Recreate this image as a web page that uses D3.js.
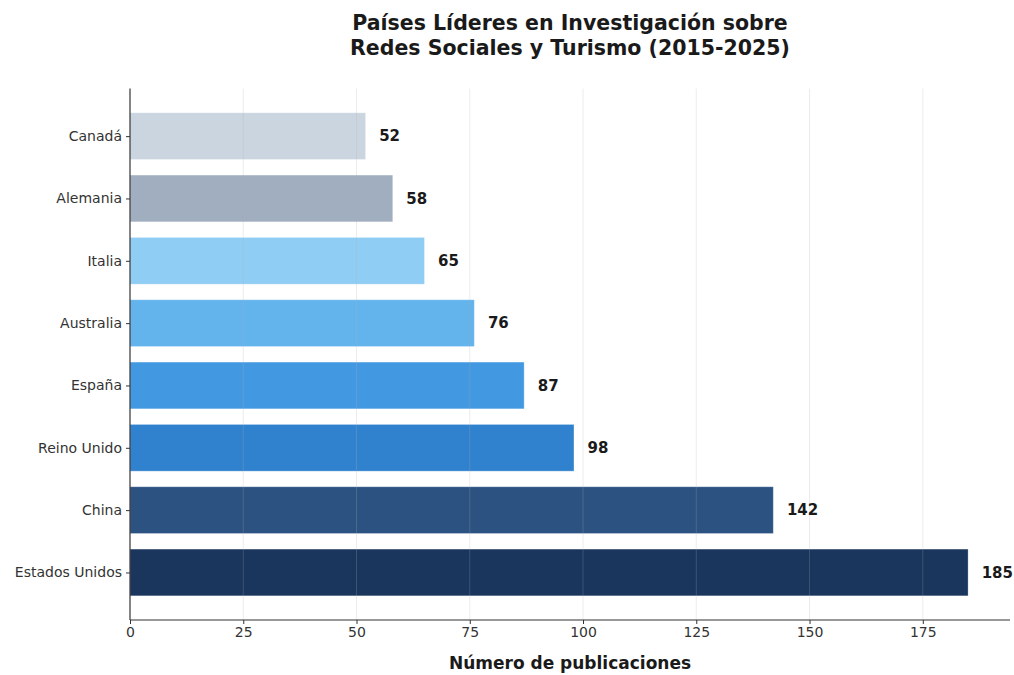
<!DOCTYPE html>
<html><head><meta charset="utf-8">
<script src="https://cdn.jsdelivr.net/npm/d3@7"></script>
<style>body{margin:0;background:#fff;} svg{display:block;}</style>
</head><body>
<svg id="chart" width="1014" height="675"></svg>
<script>
const countries = ["Canadá","Alemania","Italia","Australia","España","Reino Unido","China","Estados Unidos"];
const publications = [52,58,65,76,87,98,142,185];
const barColors = ["#cbd5e0","#a0aec0","#90cdf4","#63b3ed","#4299e1","#3182ce","#2c5282","#1a365d"];
const xTicks = [0,25,50,75,100,125,150,175];
const titleLines = ["Países Líderes en Investigación sobre","Redes Sociales y Turismo (2015-2025)"];
const xLabel = "Número de publicaciones";

(function(){
const svg = d3.select("#chart");
const mLeft = 130, mRight = 1010, mTop = 88.6, mBottom = 620;
const x = d3.scaleLinear().domain([0, 194.25]).range([mLeft, mRight]);
const y = d3.scaleLinear().domain([-0.7625, 7.7625]).range([mTop, mBottom]);
const bh = (y(0.375) - y(-0.375));

const font = "'DejaVu Sans', sans-serif";

svg.append("g").selectAll("rect").data(countries).join("rect")
  .attr("x", x(0))
  .attr("y", (d,i) => y(i) - bh/2)
  .attr("width", (d,i) => x(publications[i]) - x(0))
  .attr("height", bh)
  .attr("fill", (d,i) => barColors[i])
  .attr("stroke", "#ffffff").attr("stroke-opacity", 0.35).attr("stroke-width", 0.8);

svg.append("g").selectAll("line").data(xTicks.filter(t=>t>0)).join("line")
  .attr("x1", d=>x(d)).attr("x2", d=>x(d)).attr("y1", mTop).attr("y2", mBottom)
  .attr("stroke", "#b0b0b0").attr("stroke-opacity", 0.3).attr("stroke-width", 0.8);

svg.append("g").selectAll("text").data(countries).join("text")
  .attr("x", (d,i) => x(publications[i] + 3))
  .attr("y", (d,i) => y(i))
  .attr("dy", "0.35em")
  .attr("font-family", font).attr("font-weight", "bold").attr("font-size", 15)
  .attr("fill", "#1a1a1a")
  .text((d,i) => publications[i]);

const xAxis = d3.axisBottom(x).tickValues(xTicks).tickSize(4).tickPadding(3);
const gx = svg.append("g").attr("transform", `translate(0,${mBottom})`).call(xAxis);
gx.select(".domain").attr("d", `M${mLeft},0H${mRight}`).attr("stroke", "#333").attr("stroke-width", 1.2);
gx.selectAll(".tick line").attr("stroke", "#333");
gx.selectAll(".tick text").attr("font-family", font).attr("font-size", 14).attr("fill", "#333");

const yAxis = d3.axisLeft(d3.scalePoint().domain(countries).range([y(0), y(7)])).tickSize(4).tickPadding(4);
const gy = svg.append("g").attr("transform", `translate(${mLeft},0)`).call(yAxis);
gy.select(".domain").attr("d", `M0,${mTop}V${mBottom}`).attr("stroke", "#333").attr("stroke-width", 1.2);
gy.selectAll(".tick line").attr("stroke", "#333");
gy.selectAll(".tick text").attr("font-family", font).attr("font-size", 14).attr("fill", "#333");

svg.append("text").attr("x", (mLeft+mRight)/2).attr("y", 669)
  .attr("text-anchor", "middle").attr("font-family", font).attr("font-weight", "bold")
  .attr("font-size", 17).attr("fill", "#1a1a1a").text(xLabel);

svg.append("g").selectAll("text").data(titleLines).join("text")
  .attr("x", (mLeft+mRight)/2).attr("y", (d,i) => 30 + i*25)
  .attr("text-anchor", "middle").attr("font-family", font).attr("font-weight", "bold")
  .attr("font-size", 20.5).attr("fill", "#1a1a1a").text(d=>d);
})();
</script>
</body></html>
